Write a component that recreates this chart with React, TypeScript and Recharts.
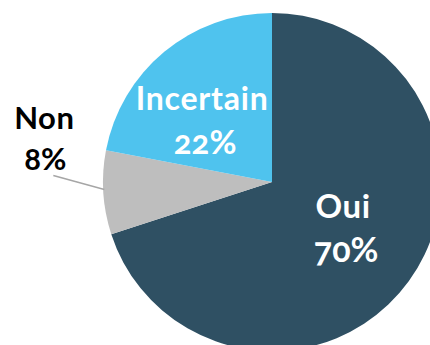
import React from 'react';
import { PieChart, Pie, Cell } from 'recharts';

const categories = ['Oui', 'Non', 'Incertain'];
const values = [70, 8, 22];
const colors = ['#2F5063', '#BEBEBE', '#4FC3EE'];
const labelColors = ['#FFFFFF', '#000000', '#FFFFFF'];

const data = categories.map((name, i) => ({ name, value: values[i] }));

const RADIAN = Math.PI / 180;
const FONT = 'Lato, "Open Sans", sans-serif';

const renderLabel = (props: any) => {
  const { cx, cy, midAngle, outerRadius, index } = props;
  const name = categories[index];
  const pct = `${values[index]}%`;
  const cos = Math.cos(-midAngle * RADIAN);
  const sin = Math.sin(-midAngle * RADIAN);
  if (name === 'Non') {
    const sx = cx + (outerRadius - 1) * cos;
    const sy = cy + (outerRadius - 1) * sin - 3;
    const ex = sx - 51;
    const ey = sy - 14;
    return (
      <g>
        <path d={`M${sx},${sy}L${ex},${ey}`} stroke="#A6A6A6" strokeWidth={1.5} fill="none" />
        <text x={ex - 9} y={ey - 47} textAnchor="middle" fill={labelColors[index]} fontFamily={FONT} fontWeight={700} fontSize={31} letterSpacing={0.5}>
          {name}
        </text>
        <text x={ex - 8} y={ey - 6} textAnchor="middle" fill={labelColors[index]} fontFamily={FONT} fontWeight={700} fontSize={31} style={{ fontVariantNumeric: 'oldstyle-nums' }}>
          {pct}
        </text>
      </g>
    );
  }
  const isOui = name === 'Oui';
  const r = outerRadius * (isOui ? 0.52 : 0.5);
  const x = cx + r * cos + (isOui ? 0 : -16);
  const y = cy + r * sin + (isOui ? 0 : 9);
  const fs = isOui ? 33 : 32;
  return (
    <g>
      <text x={x} y={y - 16} textAnchor="middle" fill={labelColors[index]} fontFamily={FONT} fontWeight={700} fontSize={fs} letterSpacing={isOui ? 0.5 : 0.8}>
        {name}
      </text>
      <text x={x + 3} y={y + 28} textAnchor="middle" fill={labelColors[index]} fontFamily={FONT} fontWeight={700} fontSize={fs + 1} style={{ fontVariantNumeric: 'oldstyle-nums' }}>
        {pct}
      </text>
    </g>
  );
};

export default function App() {
  return (
    <div style={{ position: 'absolute', left: 0, top: 0, width: 430, height: 345, background: '#fff', overflow: 'hidden' }}>
      <PieChart width={430} height={345} margin={{ top: 0, right: 0, bottom: 0, left: 0 }}>
        <Pie
          data={data}
          dataKey="value"
          nameKey="name"
          cx={272}
          cy={182}
          outerRadius={169}
          startAngle={90}
          endAngle={-270}
          stroke="none"
          label={renderLabel}
          labelLine={false}
          isAnimationActive={false}
        >
          {data.map((d, i) => (
            <Cell key={d.name} fill={colors[i]} />
          ))}
        </Pie>
      </PieChart>
    </div>
  );
}
